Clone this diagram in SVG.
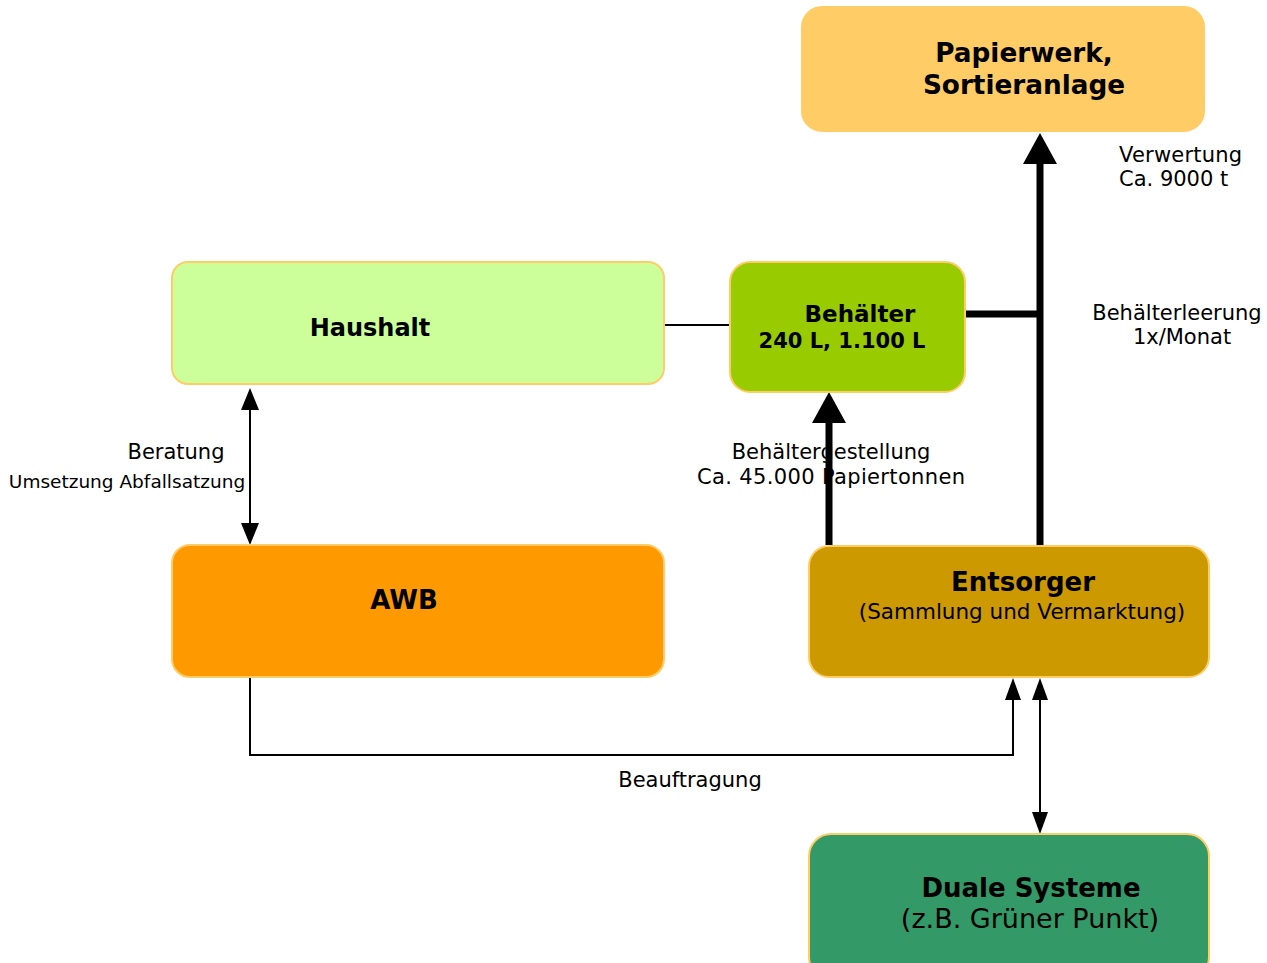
<svg xmlns="http://www.w3.org/2000/svg" width="1267" height="963" viewBox="0 0 1267 963">
<style>
.box{stroke:#FFCC66;stroke-width:2}
text{font-family:"DejaVu Sans","Verdana",sans-serif;fill:#000}
.b{font-weight:bold}
.thin{stroke:#000;stroke-width:2;fill:none}
.thick{stroke:#000;stroke-width:7;fill:none}
.head{fill:#000}
</style>
<g id="connectors">
<line class="thin" x1="664" y1="325" x2="730" y2="325"/>
<line class="thick" x1="966" y1="314" x2="1040" y2="314"/>
<line class="thick" x1="1040" y1="550" x2="1040" y2="160"/>
<polygon class="head" points="1040,133 1023,164 1057,164"/>
<line class="thick" x1="829" y1="545" x2="829" y2="420"/>
<polygon class="head" points="829,392 812,423 846,423"/>
<line class="thin" x1="250" y1="408" x2="250" y2="525"/>
<polygon class="head" points="250,388 241,410 259,410"/>
<polygon class="head" points="250,545 241,523 259,523"/>
<polyline class="thin" points="250,677 250,755 1013,755 1013,698"/>
<polygon class="head" points="1013,678 1005,700 1021,700"/>
<line class="thin" x1="1040" y1="698" x2="1040" y2="814"/>
<polygon class="head" points="1040,678 1032,700 1048,700"/>
<polygon class="head" points="1040,834 1032,812 1048,812"/>
<text x="1119" y="162" font-size="21" textLength="123">Verwertung</text>
<text x="1119" y="186" font-size="21">Ca. 9000 t</text>
<text x="1177" y="320" font-size="21" text-anchor="middle">Behälterleerung</text>
<text x="1182" y="344" font-size="21" text-anchor="middle">1x/Monat</text>
<text x="831" y="459" font-size="21" text-anchor="middle">Behältergestellung</text>
<text x="831" y="484" font-size="21" text-anchor="middle" textLength="268">Ca. 45.000 Papiertonnen</text>
<text x="176" y="459" font-size="21" text-anchor="middle">Beratung</text>
<text x="127" y="488" font-size="18.5" text-anchor="middle">Umsetzung Abfallsatzung</text>
<text x="690" y="787" font-size="21" text-anchor="middle">Beauftragung</text>
</g>
<g id="papierwerk">
<rect class="box" x="802" y="7" width="402" height="124" rx="20" fill="#FFCC66"/>
<text class="b" x="1024" y="62" font-size="26.3" text-anchor="middle">Papierwerk,</text>
<text class="b" x="1024" y="94" font-size="26.3" text-anchor="middle">Sortieranlage</text>
</g>
<g id="haushalt">
<rect class="box" x="172" y="262" width="492" height="122" rx="16" fill="#CCFF99"/>
<text class="b" x="370" y="336" font-size="24" text-anchor="middle">Haushalt</text>
</g>
<g id="behaelter">
<rect class="box" x="730" y="262" width="235" height="130" rx="20" fill="#99CC00"/>
<text class="b" x="860" y="322" font-size="23" text-anchor="middle">Behälter</text>
<text class="b" x="842" y="348" font-size="21" text-anchor="middle">240 L, 1.100 L</text>
</g>
<g id="awb">
<rect class="box" x="172" y="545" width="492" height="132" rx="18" fill="#FF9900"/>
<text class="b" x="404" y="609" font-size="26" text-anchor="middle">AWB</text>
</g>
<g id="entsorger">
<rect class="box" x="809" y="546" width="400" height="131" rx="20" fill="#CC9900"/>
<text class="b" x="1023" y="591" font-size="26" text-anchor="middle">Entsorger</text>
<text x="1022" y="619" font-size="21.5" text-anchor="middle">(Sammlung und Vermarktung)</text>
</g>
<g id="duale">
<rect class="box" x="809" y="834" width="400" height="145" rx="22" fill="#339966"/>
<text class="b" x="1031" y="897" font-size="26" text-anchor="middle">Duale Systeme</text>
<text x="1030" y="928" font-size="27" text-anchor="middle">(z.B. Grüner Punkt)</text>
</g>
</svg>
